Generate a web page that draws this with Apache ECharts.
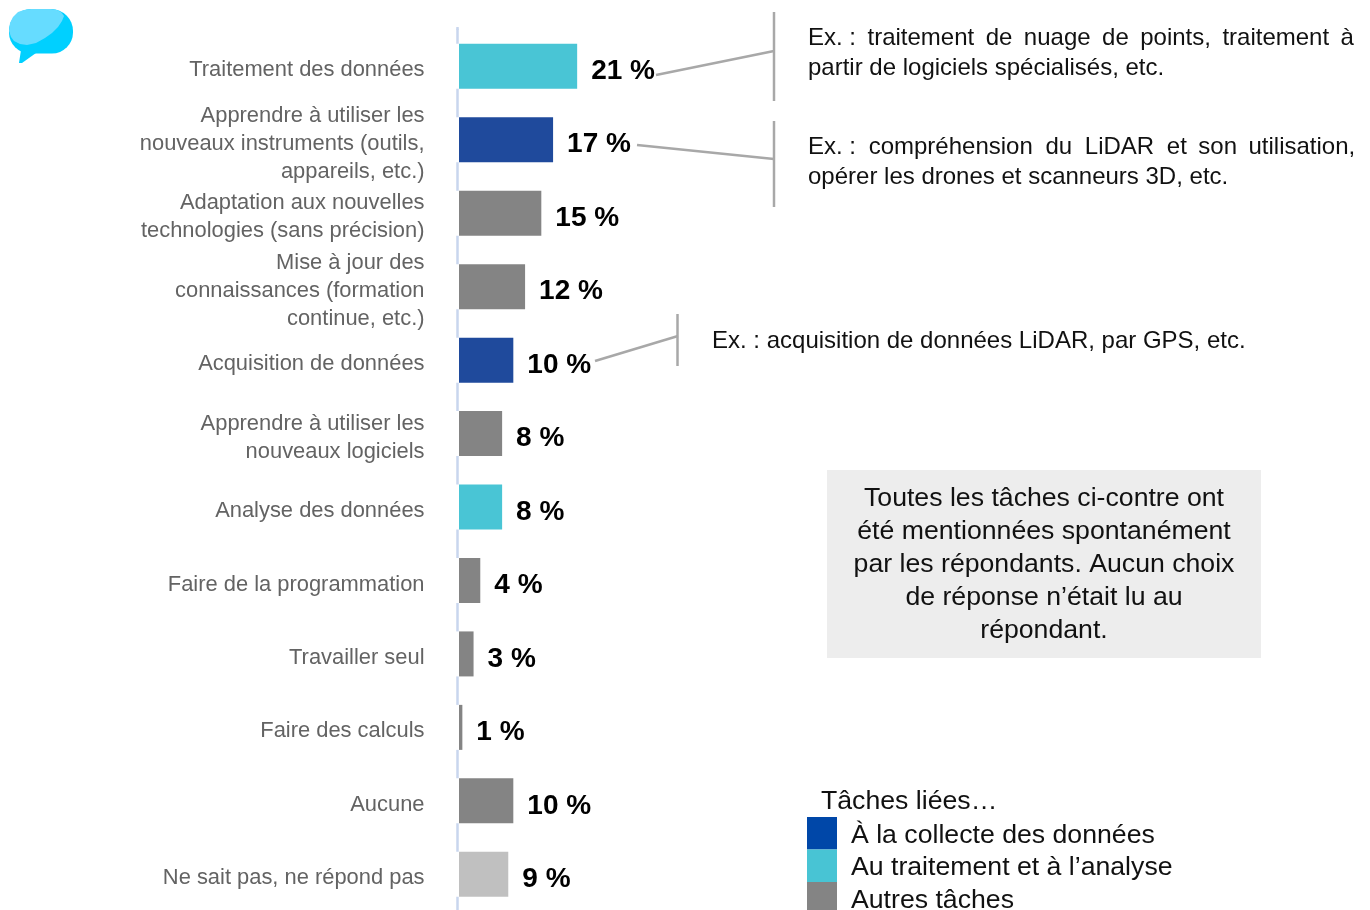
<!DOCTYPE html>
<html>
<head>
<meta charset="utf-8">
<title>Tâches</title>
<script src="https://cdn.jsdelivr.net/npm/echarts@6/dist/echarts.min.js"></script>
<style>
html,body{margin:0;padding:0;background:#fff;}
#main{width:1370px;height:910px;}
</style>
</head>
<body>
<div id="main"></div>
<script>
var categories = [
	'Traitement des données',
	'Apprendre à utiliser les\nnouveaux instruments (outils,\nappareils, etc.)',
	'Adaptation aux nouvelles\ntechnologies (sans précision)',
	'Mise à jour des\nconnaissances (formation\ncontinue, etc.)',
	'Acquisition de données',
	'Apprendre à utiliser les\nnouveaux logiciels',
	'Analyse des données',
	'Faire de la programmation',
	'Travailler seul',
	'Faire des calculs',
	'Aucune',
	'Ne sait pas, ne répond pas'
];
var collecte = [null, 16.8, null, null, 9.7, null, null, null, null, null, null, null];
var traitement = [21.1, null, null, null, null, null, 7.7, null, null, null, null, null];
var autres = [null, null, 14.7, 11.8, null, 7.7, null, 3.8, 2.6, 0.6, 9.7, null];
var nsp = [null, null, null, null, null, null, null, null, null, null, null, 8.8];
var labels = ['21 %', '17 %', '15 %', '12 %', '10 %', '8 %', '8 %', '4 %', '3 %', '1 %', '10 %', '9 %'];

var legendNames = ['À la collecte des données', 'Au traitement et à l’analyse', 'Autres tâches'];
var noteLines = 'Toutes les tâches ci-contre ont\nété mentionnées spontanément\npar les répondants. Aucun choix\nde réponse n’était lu au\nrépondant.';

var fontName = '"Liberation Sans", Arial, sans-serif';
var myChart = echarts.init(document.getElementById('main'));

function barSerie(name, data, color){
	return {
		name:name,
		type:'bar',
		data:data,
		barWidth:45,
		barGap:'-100%',
		itemStyle:{
			color:color,
			shadowColor:'#fff',
			shadowBlur:0,
			shadowOffsetX:-3
		},
		label:{
			show:true,
			position:'right',
			distance:14,
			offset:[0,5],
			color:'#000',
			fontFamily:fontName,
			fontSize:28,
			fontWeight:'bold',
			formatter:function(p){
				return labels[p.dataIndex];
			}
		}
	};
}

function exLine(x1, y1, x2, y2){
	return {
		type:'line',
		shape:{x1:x1,y1:y1,x2:x2,y2:y2},
		style:{stroke:'#a8a8a8',lineWidth:2.5}
	};
}

function exText(x, y, text){
	return {
		type:'text',
		x:x,
		y:y,
		style:{
			text:text,
			fill:'#111',
			font:'24px '+fontName,
			lineHeight:30
		}
	};
}

var option = {
	animation:false,
	backgroundColor:'#fff',
	legend:{
		orient:'vertical',
		left:807,
		top:817,
		height:200,
		padding:0,
		icon:'rect',
		itemWidth:30,
		itemHeight:32.5,
		itemGap:0,
		selectedMode:false,
		formatter:function(name){
			return '{s| }\n{a|'+name+'}';
		},
		textStyle:{
			color:'#111',
			fontFamily:fontName,
			fontSize:26.67,
			padding:[0,0,0,9],
			rich:{
				s:{fontSize:1,lineHeight:4},
				a:{color:'#111',fontFamily:fontName,fontSize:26.67,lineHeight:30}
			}
		},
		data:[
			{name:legendNames[0],itemStyle:{color:'#0047a8'}},
			{name:legendNames[1],itemStyle:{color:'#48c4d4'}},
			{name:legendNames[2],itemStyle:{color:'#848484'}}
		]
	},
	grid:{
		left:459,
		top:29.6,
		width:560,
		height:881.4,
		outerBoundsMode:'none'
	},
	xAxis:{
		type:'value',
		min:0,
		max:100,
		show:false
	},
	yAxis:{
		type:'category',
		inverse:true,
		data:categories,
		offset:1.5,
		axisTick:{show:false},
		axisLine:{
			show:true,
			onZero:false,
			lineStyle:{color:'#c9d6ee',width:2.5}
		},
		axisLabel:{
			interval:0,
			margin:33,
			align:'right',
			formatter:function(v){
				return '{s| }\n' + v.split('\n').map(function(l){
					return '{a|'+l+'}';
				}).join('\n');
			},
			rich:{
				s:{fontSize:1,lineHeight:8},
				a:{color:'#636363',fontFamily:fontName,fontSize:21.9,lineHeight:28,align:'right'}
			}
		}
	},
	series:[
		barSerie(legendNames[0], collecte, '#1f4a9c'),
		barSerie(legendNames[1], traitement, '#49c5d5'),
		barSerie(legendNames[2], autres, '#848484'),
		barSerie('Ne sait pas', nsp, '#c0c0c0')
	],
	graphic:[
		// bulle en haut a gauche
		{
			type:'rect',
			shape:{x:9,y:9,width:64,height:44.5,r:[22,22,21,21]},
			style:{fill:'#00d0ff'}
		},
		{
			type:'polygon',
			shape:{points:[[21,50],[19,63],[22,63],[36,53]]},
			style:{fill:'#00d0ff'}
		},
		{
			type:'polygon',
			shape:{points:[[31,9],[51,9],[57,10],[61,12],[64,16],[62,21],[58,27],[52,33],[45,38],[36,43],[27,45],[20,44],[14,41],[11,37],[9,31],[10,23],[13,17],[18,12],[24,10]]},
			style:{fill:'#66dcff'}
		},
		// haut de l'axe au-dessus de la grille
		{
			type:'line',
			shape:{x1:457.5,y1:27,x2:457.5,y2:30},
			style:{stroke:'#c9d6ee',lineWidth:2.5}
		},
		// traits de rappel
		exLine(656, 75, 774, 51),
		exLine(774, 12, 774, 101),
		exLine(637, 145, 774, 159),
		exLine(774, 121, 774, 207),
		exLine(595, 361, 678, 336),
		exLine(677.5, 314, 677.5, 366),
		exText(808, 23, 'Ex. : \u2009traitement \u2009de \u2009nuage \u2009de \u2009points, \u2009traitement \u2009à\npartir de logiciels spécialisés, etc.'),
		exText(808, 132, 'Ex. : \u2005compréhension \u2005du \u2005LiDAR \u2005et \u2009son \u2009utilisation,\nopérer les drones et scanneurs 3D, etc.'),
		exText(712, 326, 'Ex. : acquisition de données LiDAR, par GPS, etc.'),
		{
			type:'rect',
			shape:{x:827,y:470,width:434,height:188},
			style:{fill:'#ededed'}
		},
		{
			type:'text',
			x:1044,
			y:482,
			style:{
				text:noteLines,
				fill:'#111',
				align:'center',
				font:'26.67px '+fontName,
				lineHeight:33
			}
		},
		{
			type:'text',
			x:821,
			y:788,
			style:{
				text:'Tâches liées…',
				fill:'#111',
				font:'26.67px '+fontName
			}
		}
	]
};

myChart.setOption(option);
</script>
</body>
</html>
